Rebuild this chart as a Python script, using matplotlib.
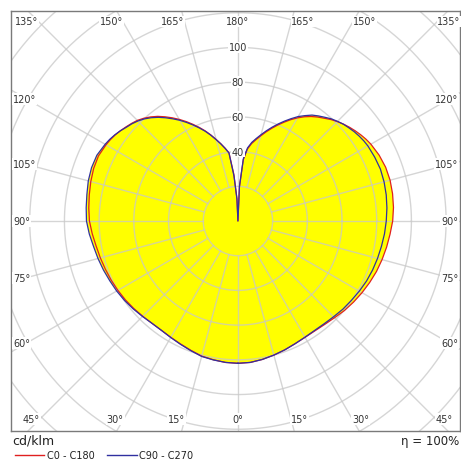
import numpy as np
import matplotlib
matplotlib.use("Agg")
import matplotlib.pyplot as plt
from matplotlib.lines import Line2D

# gamma angle (0 = straight down, 180 = straight up), cd/klm
gamma = [0, 5, 10, 15, 20, 25, 30, 35, 40, 45, 50, 55, 60, 65, 70, 75, 80, 85,
         90, 95, 100, 105, 110, 115,
         120, 122.5, 125, 127.5, 130, 132.5, 135, 137.5, 140, 142.5, 145, 147.5,
         150, 152.5, 155, 157.5, 160, 162.5, 165, 167.5, 170, 172.5, 175, 177.5,
         180]

# right half of the diagram
c0 = [82, 81.8, 81, 80, 79, 78, 77.4, 77.3, 77.8, 78.8, 80.2, 81.4, 82.6, 83.8,
      85, 86, 87, 88, 89.2, 90, 90.5, 90.8, 90.6, 89.8,
      88.5, 87.6, 86.5, 85.3, 84, 82.6, 81, 79.3, 77.3, 75.5, 73.5, 71.2, 68.6,
      65.8, 62.8, 59.8, 56.8, 53.8, 50.8, 48, 45.3, 41.8, 35.5, 19.5, 0]
c90 = [82, 81.8, 81, 80, 79, 78, 77.3, 77, 77.3, 78, 79, 79.8, 80.8, 81.8,
       82.6, 83.3, 84, 84.8, 85.5, 86.2, 86.8, 87.2, 87.4, 87,
       86.5, 86, 85.3, 84.5, 83.5, 82.5, 81.2, 79.8, 78, 76.3, 74.5, 72, 69.5,
       66.5, 63.5, 60.5, 57.5, 54.5, 51.5, 48.7, 46, 42.5, 36, 20, 0]
# left half of the diagram
c180 = [82, 81.8, 81.2, 80.6, 79.3, 78.2, 77.4, 76.9, 77, 77.6, 78.4, 79.2,
        79.9, 80.6, 81.3, 82.1, 83, 84.3, 85.6, 86.3, 87, 87.8, 88.5, 88.7,
        87.8, 87.2, 86.4, 85.4, 84.3, 83.2, 82, 80.3, 78.3, 76, 73.3, 70.5,
        67.6, 64.6, 61.5, 58.4, 55.3, 52, 48.7, 45.6, 42.6, 39.7, 27, 13, 0]
c270 = [82, 81.8, 81.3, 80.8, 79.5, 78.4, 77.5, 76.9, 77, 77.8, 78.8, 79.8,
        80.7, 81.5, 82.5, 83.5, 84.5, 86, 87.3, 87.8, 88.4, 89.3, 89.8, 89.7,
        88.4, 87.6, 86.6, 85.4, 84, 82.9, 81.5, 79.8, 77.7, 75.3, 72.6, 69.8,
        67, 64, 61, 58, 55, 51.8, 48.5, 45.5, 42.5, 39.5, 26, 12.5, 0]

ring_values = [20, 40, 60, 80, 100, 120, 140, 160, 180, 200]
ring_labels = [40, 60, 80, 100]
angle_ticks = list(range(0, 360, 15))


def outline(right, left):
    g = np.radians(gamma)
    r1 = np.array(right)
    r2 = np.array(left)
    x = np.concatenate([r1 * np.sin(g), -r2[::-1] * np.sin(g[::-1])])
    y = np.concatenate([-r1 * np.cos(g), -r2[::-1] * np.cos(g[::-1])])
    return x, y


fig = plt.figure(figsize=(4.61, 4.64), dpi=100)
ax = fig.add_axes([11 / 461, 32 / 464, 449 / 461, 420 / 464])
ax.set_xlim(-130.8, 128)
ax.set_ylim(-121, 121)
ax.set_xticks([])
ax.set_yticks([])
for s in ax.spines.values():
    s.set_color("#7a7a7a")
    s.set_linewidth(1)

xa, ya = outline(c0, c180)
xb, yb = outline(c90, c270)
ax.fill(xa, ya, color="#ffff00", lw=0, zorder=1)
ax.fill(xb, yb, color="#ffff00", lw=0, zorder=1)

grid_col = "#c8c8c8"
t = np.linspace(0, 2 * np.pi, 400)
for r in ring_values:
    ax.plot(r * np.cos(t), r * np.sin(t), color=grid_col, lw=1, alpha=0.75, zorder=2)
for a in angle_ticks:
    rad = np.radians(a)
    ax.plot([20 * np.sin(rad), 260 * np.sin(rad)],
            [-20 * np.cos(rad), -260 * np.cos(rad)],
            color=grid_col, lw=1, alpha=0.75, zorder=2)

ax.plot(xa, ya, color="#e02020", lw=0.9, zorder=3)
ax.plot(xb, yb, color="#3030a0", lw=0.9, zorder=3)

box = dict(facecolor="white", edgecolor="none", pad=0.6)
for r in ring_labels:
    ax.text(0, r, str(r), ha="center", va="center", fontsize=7, color="#333333",
            bbox=box, zorder=4)

# angle labels around the frame
top_y, bot_y, side_x = 115, -114, 122
for a in range(0, 181, 15):
    rad = np.radians(a)
    sx, cy = np.sin(rad), -np.cos(rad)
    lab = "%d°" % a
    for sgn in ([1] if a in (0, 180) else [1, -1]):
        if abs(sx) * top_y >= abs(cy) * side_x or abs(cy) < 1e-9:
            # side label
            yy = cy * side_x / abs(sx)
            if sgn > 0:
                ax.text(127, yy, lab, ha="right", va="center", fontsize=7,
                        color="#333333", bbox=box, zorder=4)
            else:
                ax.text(-129.5, yy, lab, ha="left", va="center", fontsize=7,
                        color="#333333", bbox=box, zorder=4)
        else:
            yy = top_y if cy > 0 else bot_y
            xx = sx * abs(yy) / abs(cy) * sgn
            ha = "center" if a in (0, 180) else ("left" if sgn > 0 else "right")
            ax.text(xx, yy, lab, ha=ha, va="center", fontsize=7, color="#333333",
                    bbox=box, zorder=4)

fig.text(12 / 461, 1 - 441 / 464, "cd/klm", fontsize=9, color="#222222",
         ha="left", va="center")
fig.text(459 / 461, 1 - 441 / 464, "η = 100%", fontsize=8.5, color="#222222",
         ha="right", va="center")
fig.add_artist(Line2D([15 / 461, 44 / 461], [1 - 456 / 464] * 2, color="#e02020", lw=1))
fig.text(47 / 461, 1 - 456 / 464, "C0 - C180", fontsize=7, color="#222222",
         ha="left", va="center")
fig.add_artist(Line2D([107 / 461, 137 / 461], [1 - 456 / 464] * 2, color="#3030a0", lw=1))
fig.text(139 / 461, 1 - 456 / 464, "C90 - C270", fontsize=7, color="#222222",
         ha="left", va="center")

fig.savefig("out.png", dpi=100)
